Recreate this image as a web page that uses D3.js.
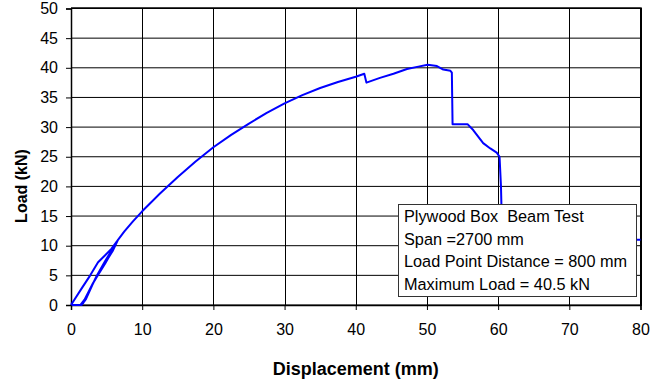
<!DOCTYPE html>
<html>
<head>
<meta charset="utf-8">
<script src="https://cdn.jsdelivr.net/npm/d3@7"></script>
<style>
  body { margin: 0; background: #fff; }
  text { font-family: "Liberation Sans", Arial, sans-serif; }
</style>
</head>
<body>
<script>
// displacement (mm) and load (kN)
let disp = [0, 1.5, 2.7, 3.8, 4.8, 5.7, 6.5,
    5.8, 4.8, 3.6, 2.4, 1.7, 1.3, 0.2, 1.3,
    1.9, 3.1, 4.8, 5.8, 6.5,
    5.9, 4.9, 3.7, 2.5, 1.8, 1.5,
    2.1, 3.2, 4.8, 5.9, 6.6, 7.5, 8.7, 10, 12.5, 15, 17.5, 20, 22.5, 25,
    27.5, 30, 32.5, 35, 37.5, 40, 41.2, 41.5, 43.4, 45.3, 47.2, 48.8, 50.1, 51.4,
    52.3, 53.3, 53.5, 53.6, 55.7, 56.5, 57.9, 58.9, 59.8, 60.2, 60.4, 60.5, 60.6, 80];
let load = [0, 2.8, 5.0, 7.2, 8.4, 9.5, 10.8,
    9.4, 7.4, 4.9, 1.9, 0.3, 0, 0, 0,
    0.9, 3.7, 7.0, 9.1, 10.8,
    9.5, 7.5, 5.1, 2.2, 0.5, 0,
    1.0, 3.9, 7.1, 9.2, 11.0, 12.4, 14.1, 15.8, 18.8, 21.6, 24.2, 26.6, 28.7, 30.6,
    32.4, 34.0, 35.4, 36.6, 37.6, 38.5, 39.0, 37.5, 38.3, 39.0, 39.8, 40.2, 40.5, 40.3,
    39.7, 39.5, 39.2, 30.5, 30.5, 29.5, 27.3, 26.4, 25.7, 25.0, 20.0, 15.0, 11.0, 11.0];
let xTicks = [0, 10, 20, 30, 40, 50, 60, 70, 80];
let yTicks = [0, 5, 10, 15, 20, 25, 30, 35, 40, 45, 50];
let noteLines = ["Plywood Box  Beam Test", "Span =2700 mm", "Load Point Distance = 800 mm", "Maximum Load = 40.5 kN"];

let pLeft = 71, pRight = 640.5, pTop = 8.5, pBottom = 305;

let svg = d3.select("body").append("svg")
    .attr("width", 650)
    .attr("height", 383);

let x = d3.scaleLinear().domain([0, 80]).range([pLeft, pRight]);
let y = d3.scaleLinear().domain([0, 50]).range([pBottom, pTop]);

// grid
svg.selectAll(".hgrid")
    .data(yTicks)
    .enter().append("line")
    .attr("x1", pLeft).attr("x2", pRight)
    .attr("y1", d => y(d)).attr("y2", d => y(d))
    .attr("stroke", "#000").attr("stroke-width", 1);
svg.selectAll(".vgrid")
    .data(xTicks)
    .enter().append("line")
    .attr("y1", pTop).attr("y2", pBottom)
    .attr("x1", d => Math.round(x(d)) + 0.5).attr("x2", d => Math.round(x(d)) + 0.5)
    .attr("stroke", "#000").attr("stroke-width", 1);

// border, right side heavier
svg.append("line")
    .attr("x1", pRight + 0.5).attr("x2", pRight + 0.5)
    .attr("y1", pTop - 1).attr("y2", pBottom + 1)
    .attr("stroke", "#000").attr("stroke-width", 2);
svg.append("line")
    .attr("x1", pLeft).attr("x2", pRight)
    .attr("y1", pTop - 0.5).attr("y2", pTop - 0.5)
    .attr("stroke", "#000").attr("stroke-width", 1.5);

// axes
let xAxis = d3.axisBottom(x).tickValues(xTicks).tickSize(5).tickPadding(14);
let yAxis = d3.axisLeft(y).tickValues(yTicks).tickSize(5).tickPadding(8);

let gx = svg.append("g").attr("transform", "translate(0," + pBottom + ")").call(xAxis);
let gy = svg.append("g").attr("transform", "translate(" + pLeft + ",0)").call(yAxis);
[gx, gy].forEach(function (g) {
    g.select(".domain").attr("stroke", "#000").attr("stroke-width", 1.5);
    g.selectAll(".tick line").attr("stroke", "#000");
    g.selectAll(".tick text")
        .attr("fill", "#000")
        .style("font-family", "'Liberation Sans', Arial, sans-serif")
        .style("font-size", "16px");
});

// data line
let line = d3.line()
    .x((d, i) => x(disp[i]))
    .y((d, i) => y(load[i]));
svg.append("path")
    .datum(disp)
    .attr("d", line)
    .attr("fill", "none")
    .attr("stroke", "#0000ff")
    .attr("stroke-width", 2)
    .attr("stroke-linejoin", "round");

// note box
svg.append("rect")
    .attr("x", 398.5).attr("y", 204.5)
    .attr("width", 238).attr("height", 92)
    .attr("fill", "#fff")
    .attr("stroke", "#333").attr("stroke-width", 1);
svg.selectAll(".note")
    .data(noteLines)
    .enter().append("text")
    .attr("x", 404)
    .attr("y", (d, i) => 222 + i * 22.5)
    .style("font-size", "16.3px")
    .style("white-space", "pre")
    .text(d => d);

// axis titles
svg.append("text")
    .attr("x", (pLeft + pRight) / 2)
    .attr("y", 375)
    .attr("text-anchor", "middle")
    .style("font-size", "18px")
    .style("font-weight", "bold")
    .text("Displacement (mm)");
svg.append("text")
    .attr("transform", "translate(27,186) rotate(-90)")
    .attr("text-anchor", "middle")
    .style("font-size", "16px")
    .style("font-weight", "bold")
    .text("Load (kN)");
</script>
</body>
</html>
